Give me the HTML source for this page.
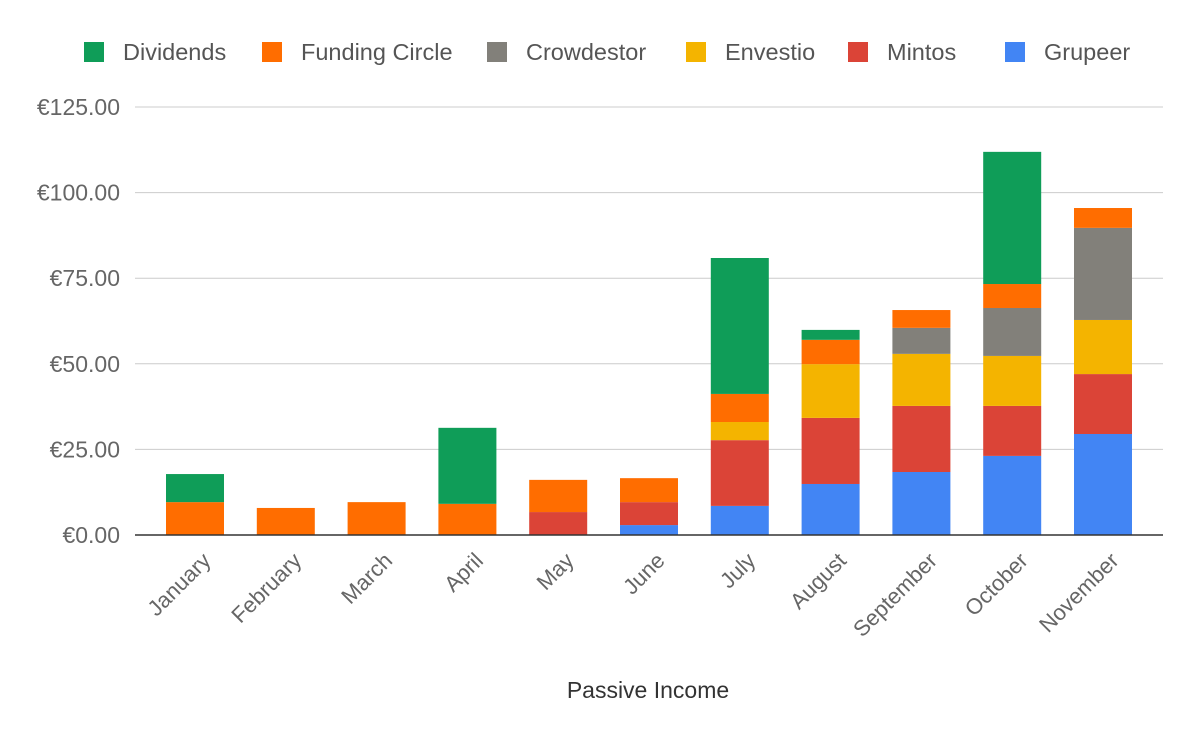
<!DOCTYPE html>
<html><head><meta charset="utf-8"><style>
html,body{margin:0;padding:0;background:#fff;}
svg{display:block;font-family:"Liberation Sans",Arial,sans-serif;}
</style></head><body>
<svg id="chart" width="1200" height="742">
<g id="grid"></g>
<g id="bars"></g>
<g id="yaxis"></g>
<g id="xaxis"></g>
<g id="legend"></g>
<text x="648" y="698" text-anchor="middle" font-size="23" fill="#333">Passive Income</text>
</svg>
<script>
const categories=["January","February","March","April","May","June","July","August","September","October","November"];
const grupeer=[0,0,0,0,0,2.9,8.5,14.9,18.4,23.1,29.5];
const mintos=[0,0,0,0,6.7,6.7,19.2,19.3,19.3,14.6,17.5];
const envestio=[0,0,0,0,0,0,5.3,15.7,15.2,14.6,15.8];
const crowdestor=[0,0,0,0,0,0,0,0,7.6,14.0,26.9];
const fundingCircle=[9.6,7.9,9.6,9.1,9.4,7.0,8.2,7.1,5.2,7.0,5.8];
const dividends=[8.2,0,0,22.2,0,0,39.7,2.9,0,38.6,0];
const yTicks=[0,25,50,75,100,125];
const yTickLabels=["€0.00","€25.00","€50.00","€75.00","€100.00","€125.00"];
const seriesNames=["Dividends","Funding Circle","Crowdestor","Envestio","Mintos","Grupeer"];
const NS="http://www.w3.org/2000/svg";
const colors={Grupeer:"#4285F4",Mintos:"#DB4437",Envestio:"#F4B400",Crowdestor:"#82807A","Funding Circle":"#FF6D00",Dividends:"#0F9D58"};
const stack=[["Grupeer",grupeer],["Mintos",mintos],["Envestio",envestio],["Crowdestor",crowdestor],["Funding Circle",fundingCircle],["Dividends",dividends]];
const y0=535,yTop=107,vMax=125;
function y(v){return y0-(v/vMax)*(y0-yTop);}
const bandStart=149.6,band=90.8,bw=58;
function xc(i){return bandStart+band*(i+0.5);}
function mk(tag,attrs,parent){const e=document.createElementNS(NS,tag);for(const k in attrs)e.setAttribute(k,attrs[k]);parent.appendChild(e);return e;}
const grid=document.getElementById('grid'),yaxis=document.getElementById('yaxis'),bars=document.getElementById('bars'),xaxis=document.getElementById('xaxis'),legend=document.getElementById('legend');
yTicks.forEach((t,i)=>{
 const l=mk('line',{x1:135,x2:1163,y1:y(t),y2:y(t),stroke:t===0?'#333':'#ccc','stroke-width':t===0?1.5:1},t===0?xaxis:grid);
 
 
 const tx=mk('text',{x:120,y:y(t)+8,'text-anchor':'end','font-size':23,fill:'#666'},yaxis);
 tx.textContent=yTickLabels[i];
 
 
});
categories.forEach((c,i)=>{
 let acc=0;
 stack.forEach(([name,arr])=>{
  const v=arr[i]; if(!v) return;
  const r=mk('rect',{x:xc(i)-bw/2,y:y(acc+v),width:bw,height:y(acc)-y(acc+v),fill:colors[name]},bars);
  
  
  acc+=v;
 });
 const tx=mk('text',{x:0,y:0,'text-anchor':'end','font-size':22,fill:'#666',transform:`translate(${xc(i)+17},${562}) rotate(-45)`},xaxis);
 tx.textContent=c;
 
 
});
const lx=[84,262,487,686,848,1005];
seriesNames.forEach((n,i)=>{
 const g=mk('g',{},legend);
 
 
 mk('rect',{x:lx[i],y:42,width:20,height:20,fill:colors[n]},g);
 const t=mk('text',{x:lx[i]+39,y:60,'font-size':23.5,fill:'#555'},g);
 t.textContent=n;
});
</script>
</body></html>
